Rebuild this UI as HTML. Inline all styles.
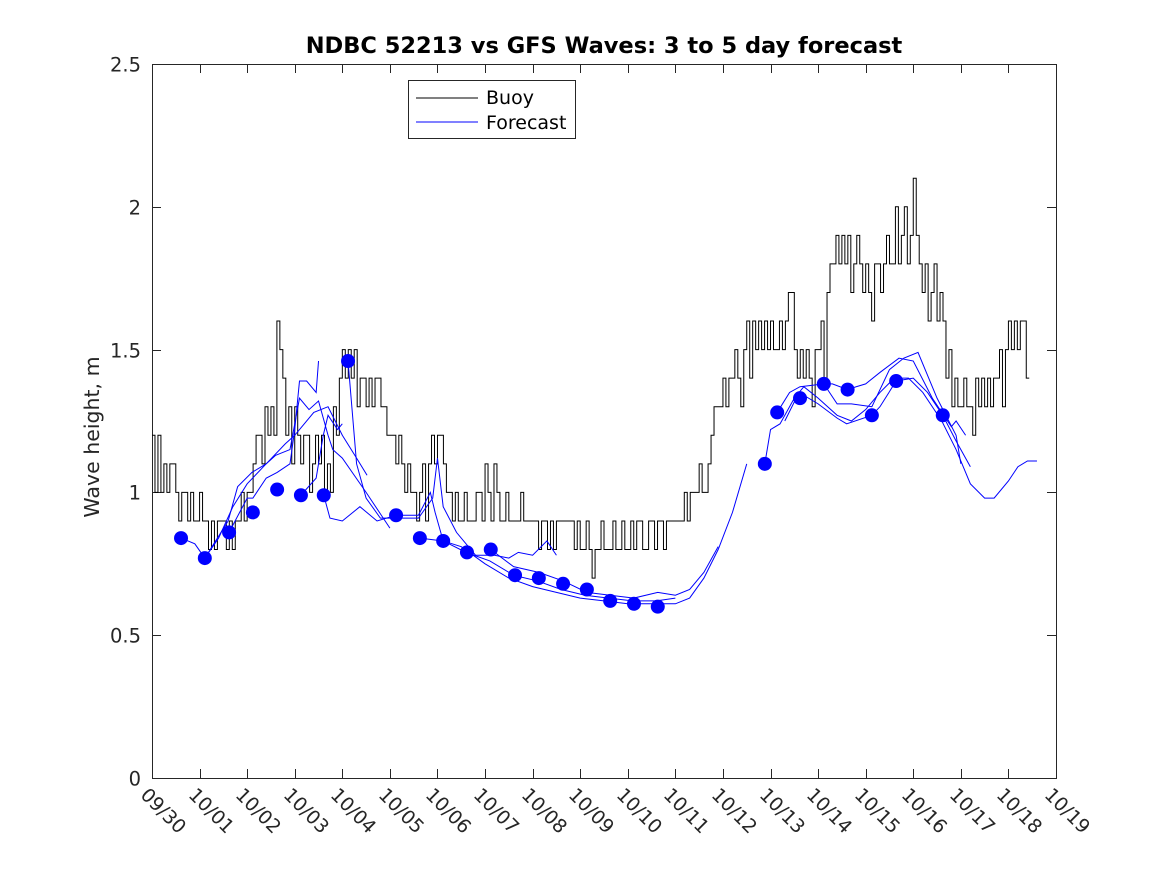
<!DOCTYPE html>
<html><head><meta charset="utf-8"><style>
body{margin:0;background:#fff}
svg{display:block;font-family:"DejaVu Sans","Liberation Sans",sans-serif}
</style></head><body>
<svg id="chart" width="1167" height="875" viewBox="0 0 1167 875">
<rect width="1167" height="875" fill="#fff"/>
<text x="604" y="53" text-anchor="middle" font-size="22.5" font-weight="bold" fill="#000">NDBC 52213 vs GFS Waves: 3 to 5 day forecast</text>
<text transform="translate(99,437) rotate(-90)" text-anchor="middle" font-size="20.5" fill="#262626">Wave height, m</text>
<g id="axes"></g>
<g id="plot"></g>
<g>
<rect x="408.5" y="80.5" width="167" height="58" fill="#fff" stroke="#262626" stroke-width="1"/>
<line x1="416" y1="98" x2="478" y2="98" stroke="#000"/>
<text x="486" y="104" font-size="19" fill="#000">Buoy</text>
<line x1="416" y1="122" x2="478" y2="122" stroke="#00f"/>
<text x="486" y="129" font-size="19" fill="#000">Forecast</text>
</g>
</svg>
<script>
const xTickLabels=["09/30","10/01","10/02","10/03","10/04","10/05","10/06","10/07","10/08","10/09","10/10","10/11","10/12","10/13","10/14","10/15","10/16","10/17","10/18","10/19"];
const yTicks=[0,0.5,1,1.5,2,2.5];
const yTickLabels=["0","0.5","1","1.5","2","2.5"];
const buoyStep=0.0625;
const buoy=[1.2,1.0,1.2,1.0,1.1,1.0,1.1,1.1,1.0,0.9,1.0,1.0,0.9,1.0,0.9,0.9,
1.0,0.9,0.9,0.8,0.9,0.8,0.9,0.9,0.9,0.8,0.9,0.8,0.9,0.9,1.0,0.9,
1.0,1.0,1.1,1.2,1.2,1.1,1.3,1.2,1.3,1.2,1.6,1.5,1.4,1.2,1.3,1.1,
1.3,1.2,1.1,1.2,1.2,1.0,1.1,1.2,1.1,1.2,1.0,1.1,1.0,1.3,1.2,1.4,
1.5,1.4,1.5,1.4,1.5,1.3,1.4,1.4,1.3,1.4,1.3,1.4,1.4,1.3,1.3,1.2,
1.2,1.2,1.1,1.2,1.1,1.0,1.1,1.0,1.0,0.9,1.0,1.1,0.9,1.1,1.2,1.1,
1.2,1.2,1.1,1.0,1.0,0.9,1.0,0.9,0.9,1.0,0.9,0.9,0.9,1.0,1.0,0.9,
1.1,1.0,0.9,1.1,1.0,0.9,0.9,1.0,0.9,0.9,0.9,0.9,1.0,0.9,0.9,0.9,
0.9,0.9,0.8,0.9,0.9,0.8,0.9,0.8,0.9,0.9,0.9,0.9,0.9,0.9,0.8,0.9,
0.8,0.8,0.9,0.8,0.7,0.8,0.8,0.9,0.8,0.8,0.8,0.9,0.8,0.8,0.9,0.8,
0.8,0.9,0.8,0.9,0.9,0.8,0.8,0.9,0.9,0.8,0.9,0.9,0.8,0.9,0.9,0.9,
0.9,0.9,0.9,1.0,0.9,1.0,1.0,1.0,1.1,1.0,1.0,1.1,1.2,1.3,1.3,1.3,
1.4,1.3,1.4,1.4,1.5,1.4,1.3,1.5,1.6,1.4,1.6,1.5,1.6,1.5,1.6,1.5,
1.6,1.5,1.5,1.6,1.5,1.6,1.7,1.7,1.5,1.4,1.5,1.4,1.5,1.4,1.3,1.5,
1.5,1.6,1.4,1.7,1.8,1.8,1.9,1.8,1.9,1.8,1.9,1.7,1.8,1.9,1.8,1.7,
1.8,1.7,1.6,1.8,1.8,1.7,1.8,1.9,1.8,1.8,2.0,1.8,1.9,2.0,1.8,1.9,
2.1,1.9,1.8,1.7,1.8,1.6,1.7,1.8,1.6,1.7,1.6,1.4,1.5,1.3,1.4,1.3,
1.3,1.4,1.3,1.3,1.2,1.4,1.3,1.4,1.3,1.4,1.3,1.4,1.4,1.5,1.3,1.5,
1.6,1.5,1.6,1.5,1.6,1.6,1.4];
const dotDays=[0.61,1.11,1.62,2.12,2.63,3.13,3.61,4.12,5.13,5.63,6.12,6.62,7.12,7.63,8.13,8.64,9.14,9.63,10.13,10.63,12.88,13.14,13.62,14.12,14.62,15.13,15.64,16.62];
const dotValues=[0.84,0.77,0.86,0.93,1.01,0.99,0.99,1.46,0.92,0.84,0.83,0.79,0.80,0.71,0.70,0.68,0.66,0.62,0.61,0.60,1.10,1.28,1.33,1.38,1.36,1.27,1.39,1.27];
const fc1Days=[0.61,0.9,1.11,1.4,1.7,2.0,2.4,2.8,3.0,3.4,3.7,4.0,4.3,4.52];
const fc1Vals=[0.84,0.82,0.77,0.84,0.95,1.03,1.10,1.17,1.20,1.28,1.30,1.20,1.12,1.06];
const fc2Days=[1.11,1.6,1.8,2.1,2.4,2.6,2.9,3.1,3.3,3.5,3.7,3.8,4.0,4.5,5.0];
const fc2Vals=[0.77,0.90,1.02,1.07,1.10,1.13,1.15,1.33,1.29,1.32,1.20,1.15,1.12,1.00,0.875];
const fc3Days=[1.62,2.0,2.12,2.4,2.63,2.9,3.0,3.1,3.25,3.45,3.5];
const fc3Vals=[0.86,0.98,0.98,1.05,1.07,1.10,1.22,1.39,1.39,1.35,1.46];
const fc4Days=[3.13,3.45,3.6,3.7,3.9,4.0];
const fc4Vals=[0.99,1.05,1.2,1.27,1.22,1.24];
const fc5Days=[3.61,3.74,4.0,4.37,4.73,5.13,5.6,5.85,5.95,6.12,6.6,7.1,7.6,8.1,8.6,9.1,9.6,10.1,10.6,11.0];
const fc5Vals=[0.99,0.91,0.90,0.95,0.90,0.92,0.92,1.00,0.93,0.83,0.79,0.76,0.71,0.69,0.66,0.64,0.63,0.62,0.62,0.63];
const fc6Days=[4.12,4.3,4.5,4.8,5.2,5.6,5.9,6.0,6.12,6.4,6.8,7.2,7.5,7.7,8.0,8.3,8.5];
const fc6Vals=[1.46,1.10,0.98,0.91,0.91,0.91,0.98,1.12,0.95,0.86,0.78,0.78,0.77,0.79,0.78,0.83,0.78];
const fc7Days=[5.63,6.12,6.5,7.0,7.5,8.0,8.5,9.0,9.5,10.0,10.5,11.0,11.3,11.6,11.9,12.2,12.5];
const fc7Vals=[0.84,0.83,0.81,0.75,0.70,0.67,0.65,0.63,0.62,0.61,0.61,0.61,0.63,0.70,0.80,0.93,1.10];
const fc8Days=[7.12,7.6,8.13,8.64,9.14,9.63,10.13,10.63,11.0,11.3,11.6,11.9];
const fc8Vals=[0.80,0.74,0.72,0.69,0.65,0.64,0.63,0.65,0.64,0.66,0.72,0.81];
const fc9Days=[12.88,13.0,13.2,13.5,13.7,14.0,14.4,14.7,15.0,15.3,15.6,15.9,16.2,16.6,16.9,17.2,17.5,17.7,18.0,18.2,18.4,18.6];
const fc9Vals=[1.10,1.22,1.24,1.33,1.37,1.33,1.27,1.25,1.29,1.35,1.40,1.40,1.35,1.25,1.15,1.03,0.98,0.98,1.04,1.09,1.11,1.11];
const fc10Days=[13.14,13.4,13.62,14.12,14.4,14.7,15.13,15.5,15.8,16.1,16.5,16.9,17.0];
const fc10Vals=[1.28,1.35,1.37,1.38,1.31,1.31,1.30,1.43,1.47,1.49,1.33,1.20,1.10];
const fc11Days=[14.12,14.3,14.62,14.8,15.0,15.3,15.7,16.0,16.4,16.8,16.9,17.1];
const fc11Vals=[1.38,1.38,1.36,1.37,1.38,1.42,1.47,1.46,1.33,1.23,1.25,1.20];
const fc12Days=[13.3,13.6,14.0,14.4,14.6,15.13,15.3,15.64,16.0,16.3,16.62,16.9,17.2];
const fc12Vals=[1.25,1.35,1.31,1.26,1.24,1.27,1.30,1.39,1.40,1.35,1.27,1.18,1.09];

const X0=152,X1=1056,Y0=778,Y1=64,XMAX=19,YMAX=2.5;
const xs=d=>X0+(X1-X0)*d/XMAX;
const ys=v=>Y0-(Y0-Y1)*v/YMAX;
const NS="http://www.w3.org/2000/svg";
const axes=document.getElementById('axes'),plot=document.getElementById('plot');
function mk(tag,attrs,parent){const e=document.createElementNS(NS,tag);for(const k in attrs)e.setAttribute(k,attrs[k]);parent.appendChild(e);return e;}

const frame=mk('rect',{x:X0+0.5,y:Y1+0.5,width:X1-X0,height:Y0-Y1,fill:'none',stroke:'#262626','stroke-width':1},axes);


yTicks.forEach((v,i)=>{
  const y=Math.round(ys(v))+0.5;
  const t1=mk('line',{x1:X0,y1:y,x2:X0+9,y2:y,stroke:'#262626'},axes);
  
  
  const t2=mk('line',{x1:X1-9,y1:y,x2:X1,y2:y,stroke:'#262626'},axes);
  
  
  const tx=mk('text',{x:X0-11,y:y+7,'text-anchor':'end','font-size':19.5,fill:'#262626'},axes);
  tx.textContent=yTickLabels[i];
  
  
});
xTickLabels.forEach((lab,i)=>{
  const x=Math.round(xs(i))+0.5;
  const t1=mk('line',{x1:x,y1:Y0,x2:x,y2:Y0-9,stroke:'#262626'},axes);
  
  
  const t2=mk('line',{x1:x,y1:Y1,x2:x,y2:Y1+9,stroke:'#262626'},axes);
  
  
  const tx=mk('text',{transform:`translate(${x-13},${Y0+18}) rotate(45)`,'font-size':19,fill:'#262626'},axes);
  tx.textContent=lab;
  
  
});

let p='';
buoy.forEach((v,i)=>{const x=xs(i*buoyStep),y=ys(v);p+=(i===0?`M${x},${y}`:`V${y}`)+`H${xs((i+1)*buoyStep)}`;});
const bl=mk('path',{d:p,fill:'none',stroke:'#000','stroke-width':1},plot);



const fcs=[[fc1Days,fc1Vals],[fc2Days,fc2Vals],[fc3Days,fc3Vals],[fc4Days,fc4Vals],[fc5Days,fc5Vals],[fc6Days,fc6Vals],[fc7Days,fc7Vals],[fc8Days,fc8Vals],[fc9Days,fc9Vals],[fc10Days,fc10Vals],[fc11Days,fc11Vals],[fc12Days,fc12Vals]];
fcs.forEach(([d,v],k)=>{
  const pts=d.map((dd,i)=>xs(dd)+','+ys(v[i])).join(' ');
  const pl=mk('polyline',{points:pts,fill:'none',stroke:'#00f','stroke-width':1},plot);
  
  
});
dotDays.forEach((d,i)=>{
  const c=mk('circle',{cx:xs(d),cy:ys(dotValues[i]),r:7,fill:'#00f'},plot);
  
  
});
</script>
</body></html>
